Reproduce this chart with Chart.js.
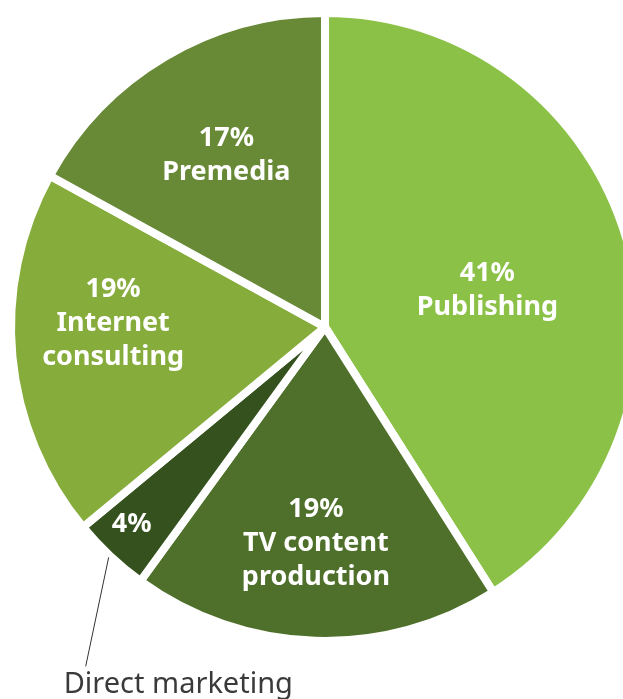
<!DOCTYPE html>
<html>
<head>
<meta charset="utf-8">
<script src="https://cdn.jsdelivr.net/npm/chart.js@4"></script>
<style>
html,body{margin:0;padding:0;background:#fff;overflow:hidden;width:623px;height:699px}
#wrap{position:absolute;left:-5px;top:-3px;width:660px;height:720px}
</style>
</head>
<body>
<div id="wrap"><canvas id="graficoSectores" width="660" height="720"></canvas></div>
<script>
const SECTORES=['Publishing','TV content production','Direct marketing','Internet consulting','Premedia'];
const PORCENTAJES=[41,19,4,19,17];
const COLORES=['#8ac146','#4f702a','#35521e','#86ac3b','#688936'];
// lineas de texto dentro de cada sector
const ETIQUETAS=[['41%','Publishing'],['19%','TV content','production'],['4%'],['19%','Internet','consulting'],['17%','Premedia']];
// posicion de la etiqueta: fraccion del radio y giro (grados) respecto al angulo medio
const RADIO_ETQ=[0.53,0.69,0.88,0.675,0.63];
const GIRO_ETQ=[3.5,0.6,1.2,6.5,0.7];

const etiquetas={
 id:'etiquetas',
 afterDatasetsDraw(chart){
  const ctx=chart.ctx;
  const arcs=chart.getDatasetMeta(0).data;
  ctx.save();
  ctx.textAlign='center';ctx.textBaseline='middle';
  ctx.fillStyle='#fff';
  ctx.font='bold 27px "Noto Sans", sans-serif';
  arcs.forEach((a,i)=>{
   const {x,y,startAngle,endAngle,outerRadius}=a.getProps(['x','y','startAngle','endAngle','outerRadius'],true);
   const m=(startAngle+endAngle)/2+GIRO_ETQ[i]*Math.PI/180, r=outerRadius*RADIO_ETQ[i];
   const cx=x+Math.cos(m)*r, cy=y+Math.sin(m)*r;
   const ls=ETIQUETAS[i], lh=34;
   ls.forEach((t,j)=>ctx.fillText(t,cx,cy+(j-(ls.length-1)/2)*lh));
  });
  // linea guia del sector pequeño
  const a=arcs[2];
  const {x,y,startAngle,endAngle,outerRadius}=a.getProps(['x','y','startAngle','endAngle','outerRadius'],true);
  const m=(startAngle+endAngle)/2;
  const x0=x+Math.cos(m)*(outerRadius+2), y0=y+Math.sin(m)*(outerRadius+2);
  const x1=x0-23, y1=y0+109;
  ctx.strokeStyle='#333';ctx.lineWidth=1;
  ctx.beginPath();ctx.moveTo(x0,y0);ctx.lineTo(x1,y1);ctx.stroke();
  ctx.fillStyle='#3a3a3a';ctx.textAlign='left';ctx.textBaseline='alphabetic';
  ctx.font='29px "Noto Sans", sans-serif';
  ctx.fillText(SECTORES[2],x1-22,y1+27);
  ctx.restore();
 }
};

new Chart(document.getElementById('graficoSectores').getContext('2d'),{
 type:'pie',
 data:{labels:SECTORES,datasets:[{data:PORCENTAJES,backgroundColor:COLORES,borderColor:'#fff',borderWidth:8}]},
 options:{
  responsive:false,animation:false,
  layout:{padding:{top:12,left:12,right:12,bottom:72}},
  plugins:{legend:{display:false},tooltip:{enabled:false}}
 },
 plugins:[etiquetas]
});
</script>
</body>
</html>
